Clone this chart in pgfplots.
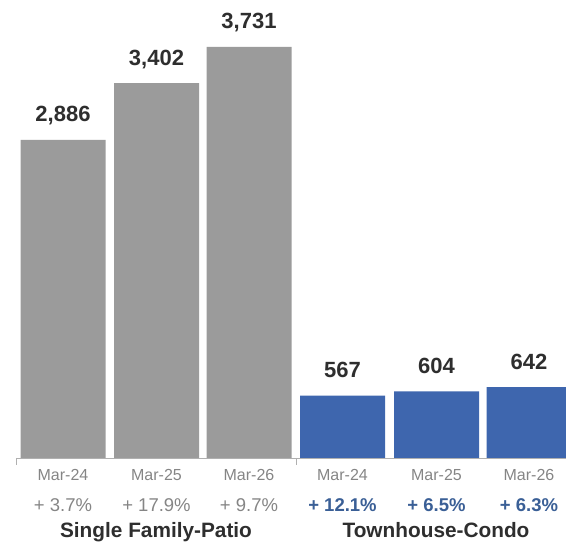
\documentclass[border=0pt]{standalone}
\usepackage{pgfplots}
\pgfplotsset{compat=1.18}
\usepackage{fontspec}
\setmainfont{Liberation Sans}
\definecolor{barGray}{HTML}{9B9B9B}
\definecolor{barBlue}{HTML}{3E66AE}
\definecolor{txtBlue}{HTML}{3A5F96}
\definecolor{txtGray}{HTML}{858585}
\definecolor{lineGray}{HTML}{B0B0B0}
\begin{document}
\begin{tikzpicture}
\begin{axis}[
  width=566pt, height=458pt, scale only axis,
  xmin=0, xmax=566, ymin=0, ymax=4156,
  axis lines=none, clip=false,
  /pgf/number format/assume math mode=true,
  ybar, bar width=85, bar shift=0pt,
  nodes near coords={\pgfmathprintnumber[1000 sep={,}, assume math mode=true]{\pgfplotspointmeta}},
  every node near coord/.append style={anchor=base, yshift=18pt, inner sep=0pt,
     font=\fontsize{22}{26}\selectfont\bfseries, text=black!82},
]
\draw[lineGray, line width=0.8pt] (axis cs:16,0) -- (axis cs:566,0);
\draw[lineGray, line width=0.8pt] (axis cs:16,0) -- ++(0,-7pt);
\draw[lineGray, line width=0.8pt] (axis cs:296,0) -- ++(0,-7pt);
\addplot[fill=barGray, draw=none] coordinates {(63,2886) (156.5,3402) (249,3731)};
\addplot[fill=barBlue, draw=none] coordinates {(342.5,567) (436.5,604) (529,642)};
% category labels
\foreach \xx/\lab in {63/Mar-24,156.5/Mar-25,249/Mar-26,342.5/Mar-24,436.5/Mar-25,529/Mar-26}{
  \edef\temp{\noexpand\node[anchor=base, text=txtGray, font=\noexpand\fontsize{16}{19}\noexpand\selectfont] at ([yshift=-23pt]axis cs:\xx,0) {\lab};}
  \temp
}
\node[anchor=base, text=txtGray, font=\fontsize{18.5}{21}\selectfont] at ([yshift=-54pt]axis cs:63,0) {+ 3.7\%};
\node[anchor=base, text=txtGray, font=\fontsize{18.5}{21}\selectfont] at ([yshift=-54pt]axis cs:156.5,0) {+ 17.9\%};
\node[anchor=base, text=txtGray, font=\fontsize{18.5}{21}\selectfont] at ([yshift=-54pt]axis cs:249,0) {+ 9.7\%};
\node[anchor=base, text=txtBlue, font=\fontsize{18.5}{21}\selectfont\bfseries] at ([yshift=-54pt]axis cs:342.5,0) {+ 12.1\%};
\node[anchor=base, text=txtBlue, font=\fontsize{18.5}{21}\selectfont\bfseries] at ([yshift=-54pt]axis cs:436.5,0) {+ 6.5\%};
\node[anchor=base, text=txtBlue, font=\fontsize{18.5}{21}\selectfont\bfseries] at ([yshift=-54pt]axis cs:529,0) {+ 6.3\%};
\node[anchor=base, text=black!82, font=\fontsize{20.8}{24}\selectfont\bfseries] at ([yshift=-80pt]axis cs:156,0) {Single Family-Patio};
\node[anchor=base, text=black!82, font=\fontsize{20.8}{24}\selectfont\bfseries] at ([yshift=-80pt]axis cs:436,0) {Townhouse-Condo};
\coordinate (bl) at (rel axis cs:0,0);
\coordinate (tr) at (rel axis cs:1,1);
\end{axis}
\pgfresetboundingbox
\path[use as bounding box] ([yshift=-90pt]bl) rectangle (tr);
\end{tikzpicture}
\end{document}
